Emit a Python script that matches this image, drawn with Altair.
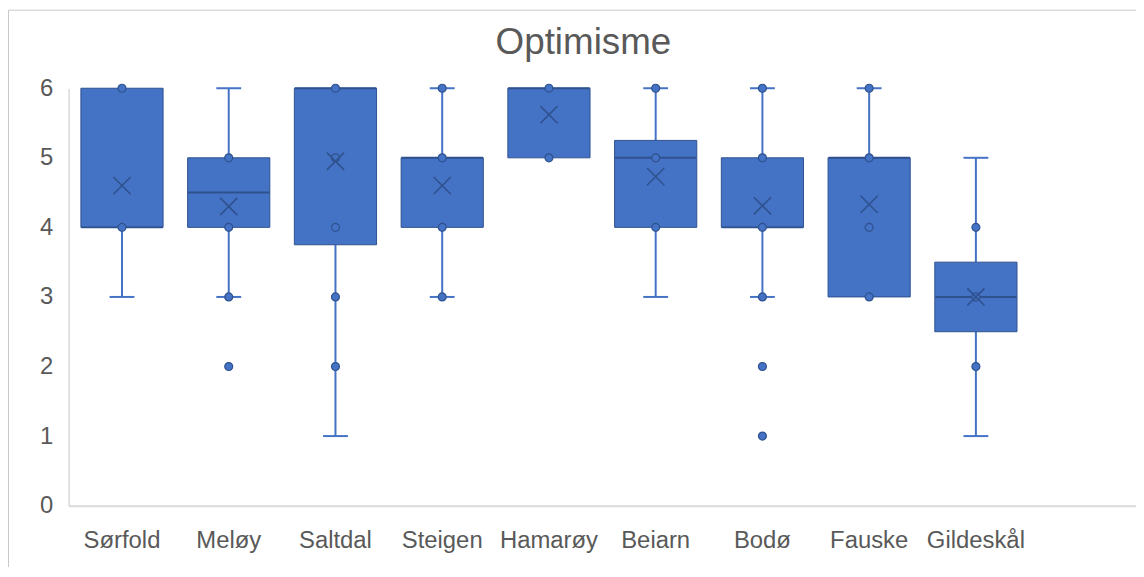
import altair as alt
import pandas as pd

# ---- data ----
categories = ["Sørfold", "Meløy", "Saltdal", "Steigen", "Hamarøy", "Beiarn", "Bodø", "Fauske", "Gildeskål"]
q1 =     [4.0, 4.0, 3.75, 4.0, 5.0, 4.0, 4.0, 3.0, 2.5]
q3 =     [6.0, 5.0, 6.0, 5.0, 6.0, 5.25, 5.0, 5.0, 3.5]
median = [4.0, 4.5, 6.0, 5.0, 6.0, 5.0, 4.0, 5.0, 3.0]
mean =   [4.6, 4.3, 4.95, 4.6, 5.62, 4.73, 4.31, 4.33, 3.0]
whisker_low =  [3, 3, 1, 3, None, 3, 3, None, 1]
whisker_high = [None, 6, None, 6, None, 6, 6, 6, 5]
point_values = {
    "Sørfold": [6, 4],
    "Meløy": [5, 4, 3, 2],
    "Saltdal": [6, 5, 4, 3, 2],
    "Steigen": [6, 5, 4, 3],
    "Hamarøy": [6, 5],
    "Beiarn": [6, 5, 4],
    "Bodø": [6, 5, 4, 3, 2, 1],
    "Fauske": [6, 5, 4, 3],
    "Gildeskål": [4, 3, 2],
}
y_ticks = [0, 1, 2, 3, 4, 5, 6]

# ---- tables ----
box_df = pd.DataFrame({"cat": categories, "q1": q1, "q3": q3, "median": median, "mean": mean})
wl = [{"cat": c, "a": lo, "b": b} for c, lo, b in zip(categories, whisker_low, q1) if lo is not None]
wh = [{"cat": c, "a": b, "b": hi} for c, hi, b in zip(categories, whisker_high, q3) if hi is not None]
whisk_df = pd.DataFrame(wl + wh)
caps_df = pd.DataFrame(
    [{"cat": c, "v": lo} for c, lo in zip(categories, whisker_low) if lo is not None]
    + [{"cat": c, "v": hi} for c, hi in zip(categories, whisker_high) if hi is not None]
)
pts_df = pd.DataFrame([{"cat": c, "v": v} for c, vals in point_values.items() for v in vals])

FILL = "#4472C4"
DARK = "#2F528F"
TEXT = "#595959"
FONT = "Liberation Sans"

x_domain = categories + [""]
xenc = alt.X(
    "cat:N",
    sort=None,
    scale=alt.Scale(domain=x_domain, paddingInner=0, paddingOuter=0),
    axis=alt.Axis(
        title=None, labelAngle=0, ticks=False, grid=False,
        domainColor="#d9d9d9", domainWidth=2,
        labelFont=FONT, labelFontSize=24, labelColor=TEXT, labelPadding=23,
    ),
)
yscale = alt.Scale(domain=[0, 6], nice=False, zero=True)
yaxis = alt.Axis(
    title=None, values=y_ticks, format="d", ticks=False, grid=False,
    domainColor="#d9d9d9", domainWidth=1.5,
    labelFont=FONT, labelFontSize=24, labelColor=TEXT, labelPadding=16,
)

whiskers = alt.Chart(whisk_df).mark_rule(color=FILL, strokeWidth=2).encode(
    x=xenc, y=alt.Y("a:Q", scale=yscale, axis=yaxis), y2="b:Q"
)
caps = alt.Chart(caps_df).mark_tick(color=FILL, size=25, thickness=2, opacity=1).encode(
    x=xenc, y=alt.Y("v:Q", scale=yscale)
)
boxes = alt.Chart(box_df).mark_bar(
    width=alt.RelativeBandSize(0.77), color=FILL, stroke=DARK, strokeWidth=1, opacity=1
).encode(x=xenc, y=alt.Y("q1:Q", scale=yscale), y2="q3:Q")
medians = alt.Chart(box_df).mark_tick(color=DARK, size=82, thickness=2, opacity=1).encode(
    x=xenc, y=alt.Y("median:Q", scale=yscale)
)
points = alt.Chart(pts_df).mark_point(
    shape="circle", filled=True, size=64, fill=FILL, stroke=DARK, strokeWidth=1.2, opacity=1, strokeOpacity=1
).encode(x=xenc, y=alt.Y("v:Q", scale=yscale))
means = alt.Chart(box_df).mark_point(
    shape="M-1,-1L1,1M-1,1L1,-1", size=300, filled=False, stroke=DARK, strokeWidth=1.6, opacity=1
).encode(x=xenc, y=alt.Y("mean:Q", scale=yscale))

border_left = alt.Chart(alt.Data(values=[{}])).mark_rule(color="#c8c8c8", strokeWidth=1).encode(
    x=alt.value(-60.5), y=alt.value(-78.5), y2=alt.value(600)
)
border_top = alt.Chart(alt.Data(values=[{}])).mark_rule(color="#c8c8c8", strokeWidth=1).encode(
    x=alt.value(-60.5), x2=alt.value(1200), y=alt.value(-78.5)
)

chart = alt.layer(
    border_left, border_top, whiskers, caps, boxes, medians, points, means
).properties(
    width=1074,
    height=420,
    autosize="none",
    padding={"left": 61, "top": 79, "right": 0, "bottom": 60},
    title=alt.TitleParams(
        "Optimisme", font=FONT, fontSize=37, fontWeight="normal", color=TEXT,
        anchor="middle", dx=-19, offset=0, baseline="alphabetic", dy=82,
    ),
).configure_view(stroke=None)

chart.save("out.html", embed_options={"renderer": "svg", "actions": False})
